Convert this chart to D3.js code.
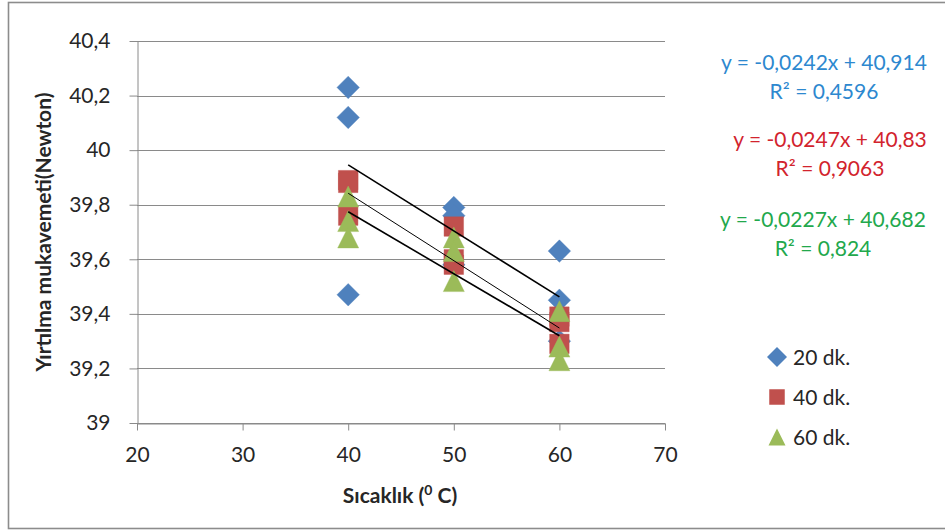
<!DOCTYPE html>
<html>
<head>
<meta charset="utf-8">
<script src="https://cdn.jsdelivr.net/npm/d3@7"></script>
<style>
  html, body { margin: 0; padding: 0; background: #ffffff; }
  svg { display: block; font-family: Lato, "Open Sans", sans-serif; }
</style>
</head>
<body>
<svg id="chart" width="945" height="531"></svg>
<script>
// Temperatures (°C) for each measurement, shared by all three series
const temperatures = [40, 40, 40, 50, 50, 50, 60, 60, 60];
// Tear strength (Newton) per soaking time
const dk20 = [40.23, 40.12, 39.47, 39.79, 39.76, 39.58, 39.63, 39.45, 39.30];
const dk40 = [39.89, 39.88, 39.76, 39.72, 39.60, 39.58, 39.39, 39.37, 39.29];
const dk60 = [39.83, 39.74, 39.68, 39.68, 39.63, 39.52, 39.41, 39.28, 39.23];

const seriesNames = ["20 dk.", "40 dk.", "60 dk."];
const seriesColors = ["#4F81BD", "#C0504D", "#9BBB59"];
const labelColors = ["#2D88CF", "#D2232D", "#22A84C"];

// Linear trendline coefficients and fit quality
const slopes = [-0.0242, -0.0247, -0.0227];
const intercepts = [40.914, 40.83, 40.682];
const rSquared = [0.4596, 0.9063, 0.824];

const xTicks = [20, 30, 40, 50, 60, 70];
const yTicks = [39, 39.2, 39.4, 39.6, 39.8, 40, 40.2, 40.4];

const svg = d3.select("#chart");
const x = d3.scaleLinear().domain([20, 70]).range([137, 665]);
const y = d3.scaleLinear().domain([39, 40.4]).range([423, 41]);

const trLocale = d3.formatLocale({ decimal: ",", thousands: ".", grouping: [3], currency: ["", ""] });
const tickFmt = trLocale.format(".3~r");
const comma = v => String(v).replace(".", ",");
const textColor = "#262626";
const fontSize = 21;

// Chart frame
svg.append("rect")
  .attr("x", 8.5).attr("y", 2.5)
  .attr("width", 945).attr("height", 526)
  .attr("fill", "#fff")
  .attr("stroke", "#8c8c8c").attr("stroke-width", 1.6);

// Horizontal gridlines
svg.append("g").selectAll("line").data(yTicks).join("line")
  .attr("x1", x(20)).attr("x2", x(70))
  .attr("y1", d => Math.round(y(d)) + 0.5).attr("y2", d => Math.round(y(d)) + 0.5)
  .attr("stroke", "#8a8a8a").attr("stroke-width", 1);

// Axes
const yAxis = svg.append("g")
  .attr("transform", `translate(${x(20) + 0.5},0)`)
  .call(d3.axisLeft(y).tickValues(yTicks).tickFormat(tickFmt).tickSize(8).tickSizeOuter(0).tickPadding(19));
const xAxis = svg.append("g")
  .attr("transform", `translate(0,${Math.round(y(39)) + 0.5})`)
  .call(d3.axisBottom(x).tickValues(xTicks).tickFormat(d3.format("d")).tickSize(7).tickSizeOuter(0).tickPadding(17));

[yAxis, xAxis].forEach(g => {
  g.select(".domain").attr("stroke", "#8a8a8a");
  g.selectAll(".tick line").attr("stroke", "#8a8a8a");
  g.selectAll(".tick text").attr("fill", textColor).attr("font-size", fontSize).attr("font-family", "Lato, sans-serif");
});

// Marker shapes
const diamond = {
  draw(ctx, size) {
    const r = Math.sqrt(size) / 2;
    ctx.moveTo(0, -r); ctx.lineTo(r, 0); ctx.lineTo(0, r); ctx.lineTo(-r, 0); ctx.closePath();
  }
};
const square = {
  draw(ctx, size) {
    const r = Math.sqrt(size) / 2;
    ctx.rect(-r, -r, 2 * r, 2 * r);
  }
};
const triangle = {
  draw(ctx, size) {
    const r = Math.sqrt(size) / 2;
    ctx.moveTo(0, -r); ctx.lineTo(r, r); ctx.lineTo(-r, r); ctx.closePath();
  }
};
const shapes = [diamond, square, triangle];
const plotSizes = [22.5, 19.5, 21];
const legendSizes = [20, 15.5, 17];

// Scatter points, series drawn in order so later ones sit on top
[dk20, dk40, dk60].forEach((vals, i) => {
  const sym = d3.symbol().type(shapes[i]).size(plotSizes[i] * plotSizes[i]);
  svg.append("g").selectAll("path").data(vals).join("path")
    .attr("transform", (d, j) => `translate(${x(temperatures[j])},${y(d)})`)
    .attr("d", sym)
    .attr("fill", seriesColors[i])
    .attr("stroke", seriesColors[i]).attr("stroke-opacity", 0.5).attr("stroke-width", 0.8);
});

// Linear trendlines across the measured temperature range
const xMin = d3.min(temperatures), xMax = d3.max(temperatures);
const lineWidths = [1.6, 1.0, 1.6];
slopes.forEach((m, i) => {
  svg.append("line")
    .attr("x1", x(xMin)).attr("y1", y(m * xMin + intercepts[i]))
    .attr("x2", x(xMax)).attr("y2", y(m * xMax + intercepts[i]))
    .attr("stroke", "#000").attr("stroke-width", lineWidths[i]);
});

// Trendline equations
const eqCenters = [824, 830, 823];
const eqY = [70, 147, 227];
slopes.forEach((m, i) => {
  const t = svg.append("g").attr("fill", labelColors[i]).attr("font-size", fontSize).attr("text-anchor", "middle");
  t.append("text").attr("x", eqCenters[i]).attr("y", eqY[i])
    .text(`y = ${comma(m)}x + ${comma(intercepts[i])}`);
  t.append("text").attr("x", eqCenters[i]).attr("y", eqY[i] + 29)
    .text(`R² = ${comma(rSquared[i])}`);
});

// Legend
const legend = svg.append("g").attr("transform", "translate(777,357)");
seriesNames.forEach((name, i) => {
  const row = legend.append("g").attr("transform", `translate(0,${i * 40})`);
  row.append("path")
    .attr("d", d3.symbol().type(shapes[i]).size(legendSizes[i] * legendSizes[i]))
    .attr("fill", seriesColors[i]);
  row.append("text").attr("x", 16).attr("y", 7.5)
    .attr("font-size", fontSize).attr("fill", textColor).text(name);
});

// Axis titles
const xTitle = svg.append("text")
  .attr("x", 400).attr("y", 503)
  .attr("text-anchor", "middle").attr("font-size", 21).attr("font-weight", "bold").attr("fill", textColor);
xTitle.append("tspan").text("Sıcaklık (");
xTitle.append("tspan").attr("font-size", 14).attr("dy", -8).text("0");
xTitle.append("tspan").attr("dy", 8).text(" C)");

svg.append("text")
  .attr("transform", "translate(51,232) rotate(-90)")
  .attr("text-anchor", "middle").attr("font-size", 21).attr("font-weight", "bold").attr("fill", textColor)
  .text("Yırtılma mukavemeti(Newton)");
</script>
</body>
</html>
